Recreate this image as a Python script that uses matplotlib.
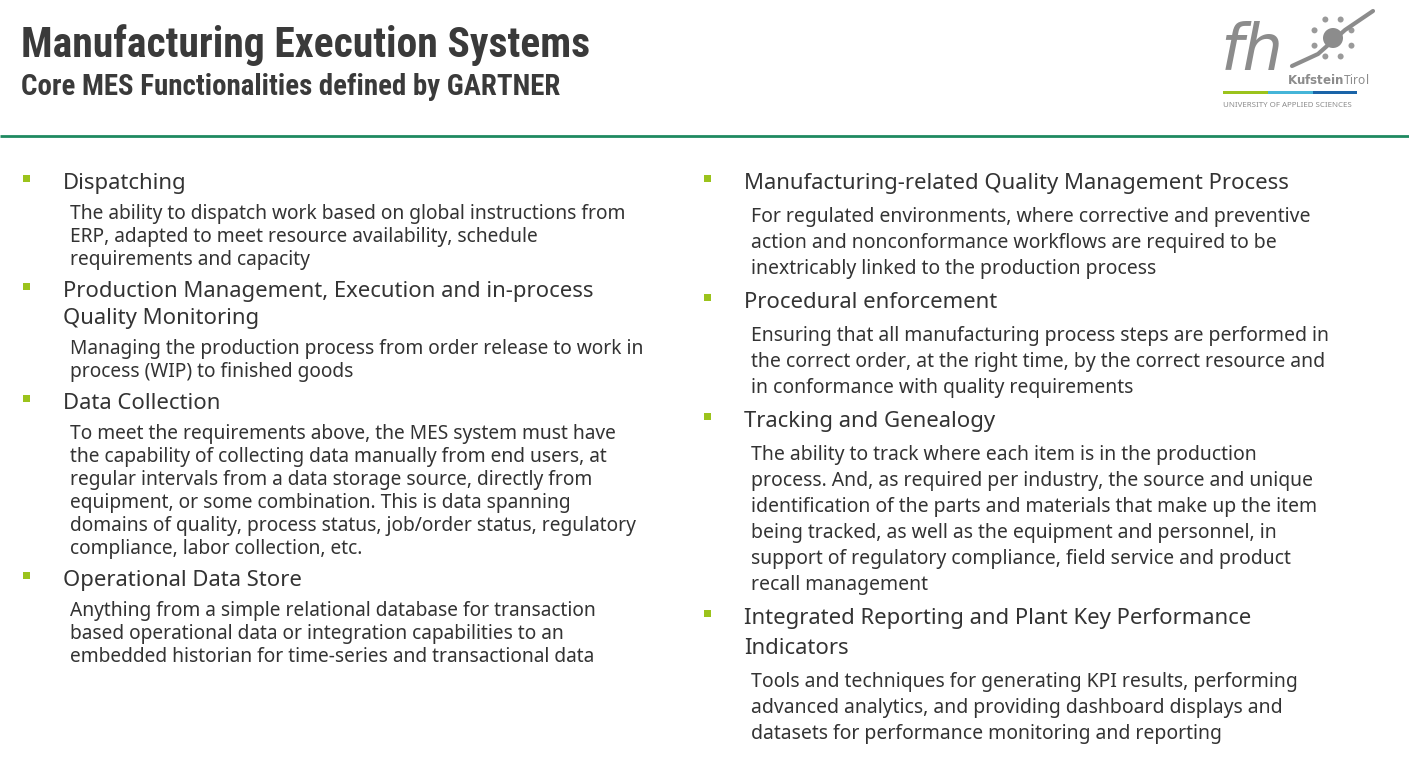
import numpy as np
import matplotlib.pyplot as plt
from matplotlib.patches import Rectangle, Circle
import matplotlib as mpl

mpl.rcParams.update({
    "font.family": ["Noto Sans", "DejaVu Sans"],
})

W, H = 1409, 759

title = "Manufacturing Execution Systems"
subtitle = "Core MES Functionalities defined by GARTNER"

left_items = [
    (["Dispatching"],
     ["The ability to dispatch work based on global instructions from",
      "ERP, adapted to meet resource availability, schedule",
      "requirements and capacity"]),
    (["Production Management, Execution and in-process",
      "Quality Monitoring"],
     ["Managing the production process from order release to work in",
      "process (WIP) to finished goods"]),
    (["Data Collection"],
     ["To meet the requirements above, the MES system must have",
      "the capability of collecting data manually from end users, at",
      "regular intervals from a data storage source, directly from",
      "equipment, or some combination. This is data spanning",
      "domains of quality, process status, job/order status, regulatory",
      "compliance, labor collection, etc."]),
    (["Operational Data Store"],
     ["Anything from a simple relational database for transaction",
      "based operational data or integration capabilities to an",
      "embedded historian for time-series and transactional data"]),
]

right_items = [
    (["Manufacturing-related Quality Management Process"],
     ["For regulated environments, where corrective and preventive",
      "action and nonconformance workflows are required to be",
      "inextricably linked to the production process"]),
    (["Procedural enforcement"],
     ["Ensuring that all manufacturing process steps are performed in",
      "the correct order, at the right time, by the correct resource and",
      "in conformance with quality requirements"]),
    (["Tracking and Genealogy"],
     ["The ability to track where each item is in the production",
      "process. And, as required per industry, the source and unique",
      "identification of the parts and materials that make up the item",
      "being tracked, as well as the equipment and personnel, in",
      "support of regulatory compliance, field service and product",
      "recall management"]),
    (["Integrated Reporting and Plant Key Performance",
      "Indicators"],
     ["Tools and techniques for generating KPI results, performing",
      "advanced analytics, and providing dashboard displays and",
      "datasets for performance monitoring and reporting"]),
]

TEXT = "#333333"
GREEN_BULLET = "#9bc31c"
LOGO = "#8c8c8c"
NARROW = ["Noto Sans Condensed", "Roboto Condensed", "Open Sans Condensed",
          "Liberation Sans Narrow", "Noto Sans"]

fig = plt.figure(figsize=(W / 100, H / 100), dpi=100)
ax = fig.add_axes([0, 0, 1, 1])
ax.set_xlim(0, W)
ax.set_ylim(H, 0)
ax.axis("off")

# ---- header ----
ax.text(21, 57, title, fontsize=30, fontweight="bold", color="#3a3a3a",
        family=NARROW, fontstretch="condensed", va="baseline")
ax.text(21, 95, subtitle, fontsize=20.8, fontweight="bold", color="#3a3a3a",
        family=NARROW, fontstretch="condensed", va="baseline")
ax.plot([0, W], [136, 136], color="#1e8a60", lw=2, solid_capstyle="butt")

# ---- logo ----
ax.text(1221, 70, "fh", fontsize=46, style="italic", color=LOGO,
        family="DejaVu Sans", va="baseline")
cx, cy = 1333, 38
ax.add_patch(Circle((cx, cy), 10, color=LOGO, lw=0))
for a in np.linspace(0, 2 * np.pi, 9)[:-1] + np.pi / 8:
    ax.add_patch(Circle((cx + 20 * np.cos(a), cy + 20 * np.sin(a)), 3, color="#9a9a9a", lw=0))
ax.plot([1292, 1318, 1345, 1373], [66, 54, 30, 11], color=LOGO, lw=3, solid_capstyle="round")
ax.text(1287, 84, r"$\mathbf{Kufstein}$Tirol", fontsize=8.6, color=LOGO, va="baseline")
for x0, x1, c in [(1223, 1268, "#9bc31c"), (1268, 1313, "#45b5d8"), (1313, 1357, "#1a64a8")]:
    ax.add_patch(Rectangle((x0, 91), x1 - x0, 3, color=c, lw=0))
ax.text(1223, 107, "UNIVERSITY OF APPLIED SCIENCES", fontsize=5.7, color=LOGO, va="baseline")


# ---- bullet columns ----
def draw_column(items, xb, xh, xt, y0, hlh, blh, hb, bh, hfs, bfs):
    y = y0
    for k, (heads, body) in enumerate(items):
        if k > 0:
            y += bh
        ax.add_patch(Rectangle((xb, y - 14), 7, 7, color=GREEN_BULLET, lw=0))
        for i, line in enumerate(heads):
            if i > 0:
                y += hlh
            ax.text(xh, y, line, fontsize=hfs, color=TEXT, va="baseline")
        y += hb
        for i, line in enumerate(body):
            if i > 0:
                y += blh
            ax.text(xt, y, line, fontsize=bfs, color=TEXT, va="baseline")


draw_column(left_items, 23, 63, 70, 189, 27, 23, 30, 32, 15.9, 13.8)
draw_column(right_items, 704, 744, 751, 189, 30, 26, 33, 34, 15.9, 13.95)

fig.savefig("out.png", dpi=100)
